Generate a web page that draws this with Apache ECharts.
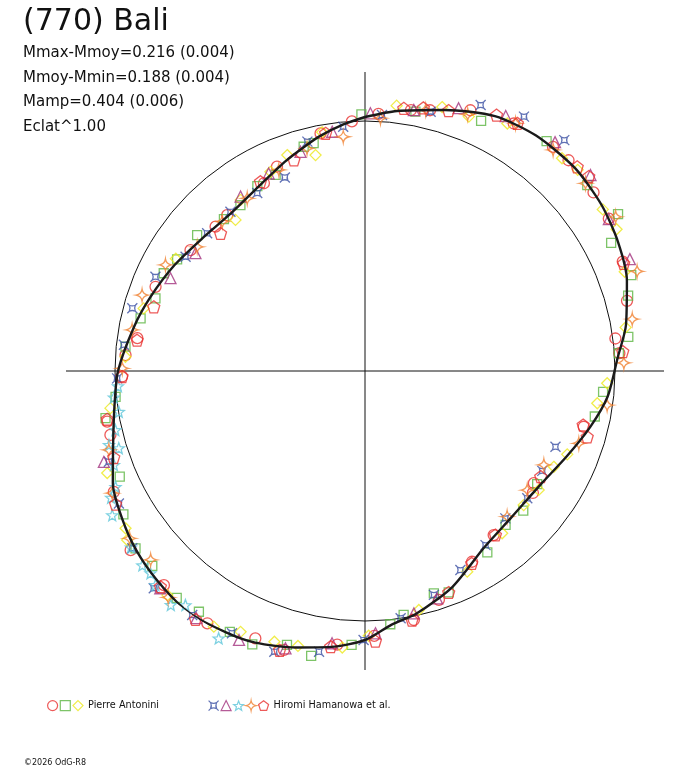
<!DOCTYPE html>
<html>
<head>
<meta charset="utf-8">
<script src="https://cdn.jsdelivr.net/npm/echarts@6/dist/echarts.min.js"></script>
<style>
  html, body { margin: 0; padding: 0; background: #fff; }
  #chart { width: 688px; height: 768px; }
</style>
</head>
<body>
<div id="chart"></div>
<script>
// courbe de lumiere en polaire : angle = phase (deg), rayon = flux relatif (1 = cercle moyen)
var curveAngle  = [0, 7, 17, 27, 36, 46, 55, 63, 71, 80, 87, 96, 104, 113, 123, 135, 146, 158, 168, 174,
                   180, 187, 194, 202, 208, 216, 223, 230, 237, 246, 254, 262, 270, 281, 289, 299, 309, 320,
                   330, 339, 344, 349, 355, 360];
var curveRadius = [1.016, 1.048, 1.092, 1.144, 1.164, 1.168, 1.156, 1.136, 1.108, 1.06, 1.012, 0.976, 0.928, 0.876, 0.836, 0.828, 0.852, 0.932, 0.992, 1.02,
                   1.076, 1.112, 1.14, 1.172, 1.184, 1.196, 1.184, 1.168, 1.144, 1.104, 1.048, 1.012, 0.988, 0.94, 0.908, 0.872, 0.84, 0.828,
                   0.852, 0.896, 0.924, 0.956, 0.99, 1.016];

// mesures [phase, flux]
var antoniniCircle = [[3,1.03],[10,1.06],[14,1.075],[22,1.125],[31,1.155],[40,1.17],[44,1.172],[52,1.16],[58,1.15],[67,1.12],
  [75,1.085],[82.6,1.01],[86,1.02],[104.3,0.903],[123.6,0.811],[126,0.83],[141.9,0.834],[150.7,0.875],[162.1,0.962],[168.9,1.015],
  [178,1.06],[185.8,1.1],[196.2,1.162],[202.3,1.156],[212,1.19],[223.2,1.175],[232.6,1.18],[244.3,1.115],[255.9,1.05],[258.9,1.051],
  [268.7,0.972],[273.8,0.96],[278.2,0.92],[291.9,0.903],[304.7,0.849],[314,0.831],[318.5,0.832],[331.7,0.853],[336.7,0.89],[349.4,0.967],[357,1.0]];
var antoniniSquare = [[359.2,1.027],[11,1.057],[24.9,1.103],[38.3,1.172],[50.1,1.159],[58.2,1.191],[62.5,1.11],[70.2,1.132],[74,1.095],[82.6,1.062],
  [86,1.018],[95,0.956],[101.2,0.937],[123.3,0.824],[131.4,0.844],[137.6,0.834],[146,0.875],[159.3,0.947],[162.8,0.931],[171,0.988],
  [174.3,1.018],[182.8,1.097],[190.7,1.16],[195.9,1.139],[202.4,1.183],[207.4,1.175],[214.6,1.17],[219.7,1.179],[227.5,1.154],[232.3,1.16],
  [239.3,1.124],[246.7,1.068],[259.7,1.055],[264.1,1.003],[275.8,0.963],[283.2,0.922],[289.1,0.887],[295.9,0.895],[300.7,0.874],[309,0.864],
  [317.1,0.829],[323.1,0.83],[329.8,0.856],[335.5,0.862],[344.7,0.93],[347.3,0.934]];
var antoniniDiamond = [[6.8,1.069],[16.3,1.1],[22.2,1.099],[29.9,1.142],[42.8,1.16],[46.6,1.171],[55.8,1.15],[60.6,1.155],[69.1,1.112],[80.5,1.057],
  [92.9,0.97],[97.9,0.938],[112.4,0.875],[116.9,0.847],[124.4,0.842],[130.2,0.831],[139.8,0.85],[153,0.901],[167.3,0.98],[179.2,1.059],
  [184.7,1.11],[193.7,1.132],[198.5,1.142],[205.5,1.156],[210.6,1.188],[221.4,1.195],[234.6,1.167],[236.7,1.146],[248.4,1.109],[261.7,1.029],
  [273.4,0.96],[285.8,0.92],[300.7,0.88],[319.4,0.796],[324,0.846],[334.6,0.882],[340.2,0.918],[347.1,0.886],[349.8,0.97]];
var hamanowaBlue = [[3.8,1.026],[14.2,1.07],[23.5,1.16],[32,1.2],[40.8,1.22],[111.7,0.82],[119.4,0.814],[128.1,0.825],[136.4,0.814],[145.3,0.847],
  [154.4,0.883],[162.9,0.937],[171.8,0.999],[180.3,1.076],[189.3,1.138],[197.9,1.18],[206.9,1.176],[215.3,1.196],[224.2,1.212],[232.7,1.17],
  [241.7,1.118],[250.5,1.087],[268.3,0.992],[276.2,0.97],[285.1,0.964],[294.2,0.919],[302.5,0.851],[311.1,0.838],[319.8,0.834],[328.8,0.832],
  [337.5,0.838],[345.9,0.946],[354.9,0.981]];
var hamanowaTriangle = [[1.2,1.031],[10.6,1.062],[19.6,1.116],[28.9,1.165],[39.7,1.19],[49,1.195],[58.1,1.149],[67.1,1.15],[162.4,0.954],[168.6,0.989],
  [177.7,1.05],[186.9,1.097],[196,1.154],[205.1,1.188],[214.3,1.197],[223.3,1.194],[250.8,1.106],[295.5,0.862],[304.8,0.826],[324.5,0.857],
  [334,0.879],[343.6,0.914],[352.2,0.966]];
var hamanowaStar = [[208.7,1.219],[217.5,1.18],[219.7,1.216],[224.4,1.198],[226.7,1.179],[228.9,1.182],[233,1.172],[240.3,1.164],[243.5,1.135],[245.1,1.1],
  [249.5,1.072],[252.6,1.032],[253.9,1.066],[256.7,1.026],[260.6,0.998],[264,1.01],[266.5,0.99]];
var hamanowaOrange = [[3.5,1.013],[13.1,1.072],[21.8,1.106],[31.3,1.159],[40.4,1.161],[49.6,1.158],[58.4,1.177],[69.9,1.159],[79,1.089],[88.2,1.036],
  [98,0.978],[108.7,0.903],[117.7,0.808],[126.3,0.805],[135.7,0.814],[221,1.2],[228.6,1.143],[234.6,1.155],[244.2,1.123],[252.9,1.072],
  [270.6,0.971],[280,0.946],[288.8,0.942],[298,0.904],[306.5,0.835],[316.3,0.826],[325.7,0.836],[336.8,0.875],[345.4,0.92],[354.7,0.941]];
var hamanowaPentagon = [[8.4,1.062],[12.5,1.078],[17.8,1.094],[27.2,1.151],[31.6,1.163],[46.1,1.178],[49,1.186],[67.4,1.121],[85.7,1.034],[103.9,0.899],
  [106.5,0.927],[121,0.82],[141.5,0.838],[151,0.88],[159.3,0.947],[169.3,1.014],[177.8,1.081],[187.1,1.111],[197,1.168],[214.3,1.203],
  [223.5,1.189],[241.9,1.131],[251,1.063],[259.4,1.049],[268.7,0.972],[277.7,0.92],[286.9,0.883],[313.6,0.798],[331.1,0.865],[341.4,0.891],[350.6,0.964]];

var titleText = '(770) Bali';
var infoLines = ['Mmax-Mmoy=0.216 (0.004)', 'Mmoy-Mmin=0.188 (0.004)', 'Mamp=0.404 (0.006)', 'Eclat^1.00'];

var FONT = 'DejaVu Sans';
var symAstroid = 'path://M0,0L2,2M10,0L8,2M10,10L8,8M0,10L2,8M2,2Q5,3.4 8,2Q6.6,5 8,8Q5,6.6 2,8Q3.4,5 2,2Z';
var symStar5 = 'path://M5,0L6.23,3.3L9.76,3.46L7,5.65L7.94,9.05L5,7.1L2.06,9.05L3,5.65L0.24,3.46L3.77,3.3Z';
var symStar4 = 'path://M5,0Q5.7,4.3 10,5Q5.7,5.7 5,10Q4.3,5.7 0,5Q4.3,4.3 5,0Z';
var symPentagon = 'path://M5,0L9.76,3.46L7.94,9.05L2.06,9.05L0.24,3.46Z';

function toPolar(pts) {
  return pts.map(function (p) { return [p[1], p[0]]; });
}

function markSeries(name, data, symbol, size, color) {
  return {
    name: name,
    type: 'scatter',
    coordinateSystem: 'polar',
    data: toPolar(data),
    symbol: symbol,
    symbolSize: size,
    clip: false,
    z: 2,
    itemStyle: { color: 'rgba(255,255,255,0)', borderColor: color, borderWidth: 1.3 }
  };
}

var curveData = curveAngle.map(function (a, i) { return [curveRadius[i], a]; });

var chart = echarts.init(document.getElementById('chart'));

var option = {
  animation: false,
  backgroundColor: '#fff',
  title: [
    {
      text: titleText,
      subtext: infoLines.join('\n'),
      left: 18,
      top: 2,
      itemGap: 4,
      textStyle: { fontFamily: FONT, fontSize: 30, fontWeight: 'normal', color: '#111' },
      subtextStyle: { fontFamily: FONT, fontSize: 15, lineHeight: 24.5, color: '#111' }
    },
    {
      text: '\u00a92026 OdG-R8',
      left: 24,
      top: 759,
      padding: 0,
      textStyle: { fontFamily: FONT, fontSize: 8, fontWeight: 'normal', color: '#111' }
    }
  ],
  legend: [
    {
      data: ['Antonini o', 'Antonini c', 'Pierre Antonini'],
      left: 47,
      top: 700,
      padding: 0,
      itemGap: 1.5,
      itemWidth: 10,
      itemHeight: 10,
      itemStyle: { borderWidth: 1.2 },
      formatter: function (n) { return n === 'Pierre Antonini' ? n : ''; },
      textStyle: { fontFamily: FONT, fontSize: 9.7, color: '#111' },
      selectedMode: false
    },
    {
      data: ['Hamanowa 1', 'Hamanowa 2', 'Hamanowa 3', 'Hamanowa 4', 'Hiromi Hamanowa et al.'],
      left: 208,
      top: 700,
      padding: 0,
      itemGap: 1.3,
      itemWidth: 10,
      itemHeight: 10,
      itemStyle: { borderWidth: 1.2 },
      formatter: function (n) { return n === 'Hiromi Hamanowa et al.' ? n : ''; },
      textStyle: { fontFamily: FONT, fontSize: 9.7, color: '#111' },
      selectedMode: false
    }
  ],
  polar: { center: [365, 371], radius: 299 },
  angleAxis: {
    type: 'value',
    min: 0,
    max: 360,
    interval: 90,
    startAngle: 90,
    clockwise: true,
    axisLine: { show: false },
    axisTick: { show: false },
    axisLabel: { show: false },
    splitLine: { show: true, lineStyle: { color: '#111', width: 1 } }
  },
  radiusAxis: {
    type: 'value',
    min: 0,
    max: 1.196,
    interval: 1,
    axisLine: { show: false },
    axisTick: { show: false },
    axisLabel: { show: false },
    splitLine: { show: true, lineStyle: { color: ['rgba(0,0,0,0)', '#111', 'rgba(0,0,0,0)'], width: 1 } }
  },
  series: [
    markSeries('Antonini o', antoniniCircle, 'circle', 11, '#e8312f'),
    markSeries('Antonini c', antoniniSquare, 'rect', 9, '#5db542'),
    markSeries('Pierre Antonini', antoniniDiamond, 'diamond', 11, '#ece81c'),
    markSeries('Hamanowa 1', hamanowaBlue, symAstroid, 10, '#3a4fa3'),
    markSeries('Hamanowa 2', hamanowaTriangle, 'triangle', 11, '#a3327e'),
    markSeries('Hamanowa 3', hamanowaStar, symStar5, 11, '#5ec6d9'),
    markSeries('Hamanowa 4', hamanowaOrange, symStar4, 12, '#f0802e'),
    markSeries('Hiromi Hamanowa et al.', hamanowaPentagon, symPentagon, 12, '#e8312f'),
    {
      name: 'courbe',
      type: 'line',
      coordinateSystem: 'polar',
      data: curveData,
      smooth: 0.25,
      symbol: 'none',
      clip: false,
      z: 3,
      lineStyle: { color: '#1a1a1a', width: 2.4 }
    }
  ]
};

chart.setOption(option);
</script>
</body>
</html>
